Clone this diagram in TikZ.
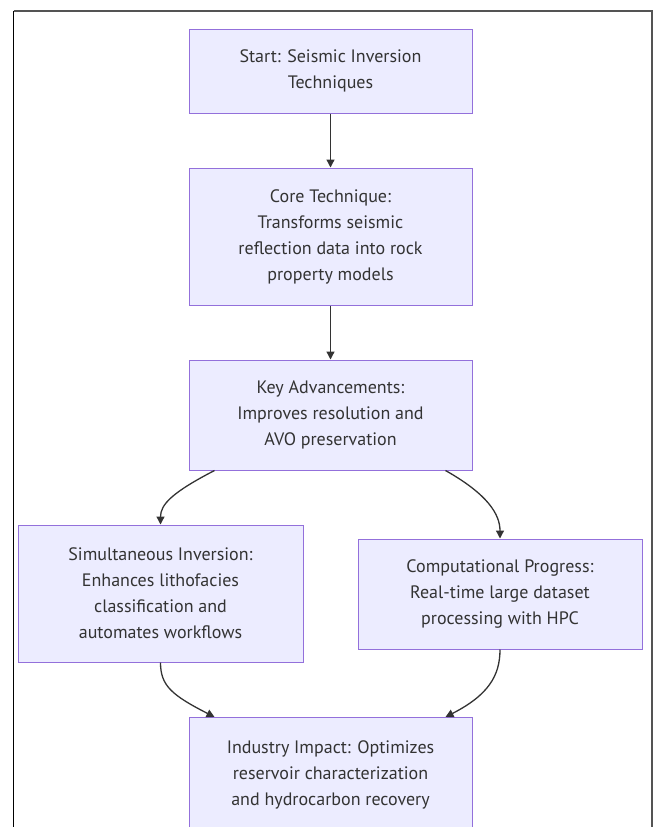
\documentclass[tikz,border=0pt]{standalone}
\usepackage{fontspec}
\setmainfont{PT Sans}
\usetikzlibrary{arrows.meta,calc}
\definecolor{boxfill}{HTML}{ECECFF}
\definecolor{boxline}{HTML}{9370DB}
\definecolor{txt}{HTML}{333333}
\definecolor{edge}{HTML}{333333}
\tikzset{
  x=1pt,y=-1pt,
  flowbox/.style={draw=boxline,fill=boxfill,line width=1pt,inner sep=0pt,
    text=txt,align=center,font=\fontsize{18}{26}\selectfont},
  flow/.style={draw=edge,line width=1.3pt,-{Triangle[length=8pt,width=8pt]}},
  framel/.style={line width=1.5pt}
}
\begin{document}
\begin{tikzpicture}
\useasboundingbox (0,0) rectangle (657,827);
% frame
\draw[framel,black] (13.5,11) -- (13.5,827);
\draw[framel,draw=black!67] (13.5,11) -- (652,11) -- (652,827);
% boxes
\node[flowbox,minimum width=283pt,minimum height=84pt] (start) at (330.5,71) {Start: Seismic Inversion\\Techniques};
\node[flowbox,minimum width=283pt,minimum height=137pt] (core) at (330.5,236.5) {Core Technique:\\Transforms seismic\\reflection data into rock\\property models};
\node[flowbox,minimum width=283pt,minimum height=110pt] (key) at (330.5,415) {Key Advancements:\\Improves resolution and\\AVO preservation};
\node[flowbox,minimum width=285pt,minimum height=137pt] (sim) at (160.5,593.5) {Simultaneous Inversion:\\Enhances lithofacies\\classification and\\automates workflows};
\node[flowbox,minimum width=284pt,minimum height=110pt] (comp) at (500,594) {Computational Progress:\\Real-time large dataset\\processing with HPC};
\begin{scope}
\clip (0,0) rectangle (657,827);
\node[flowbox,minimum width=283pt,minimum height=137pt,anchor=north] (ind) at (330.5,717) {Industry Impact: Optimizes\\reservoir characterization\\and hydrocarbon recovery\\\mbox{}};
\end{scope}
% connectors
\draw[flow] (start.south) -- (core.north);
\draw[flow] (core.south) -- (key.north);
\draw[flow] ([xshift=26pt]key.south west) .. controls ([xshift=11.5pt,yshift=32pt]sim.north) and ([yshift=20pt]sim.north) .. (sim.north);
\draw[flow] ([xshift=-27pt]key.south east) .. controls ([xshift=-12pt,yshift=44pt]comp.north) and ([yshift=24pt]comp.north) .. (comp.north);
\draw[flow] (sim.south) .. controls ([yshift=-23pt]sim.south) and ([xshift=-17pt,yshift=22pt]ind.north west) .. ([xshift=26pt]ind.north west);
\draw[flow] (comp.south) .. controls ([yshift=-26pt]comp.south) and ([xshift=16pt,yshift=22pt]ind.north east) .. ([xshift=-27pt]ind.north east);
\end{tikzpicture}
\end{document}
